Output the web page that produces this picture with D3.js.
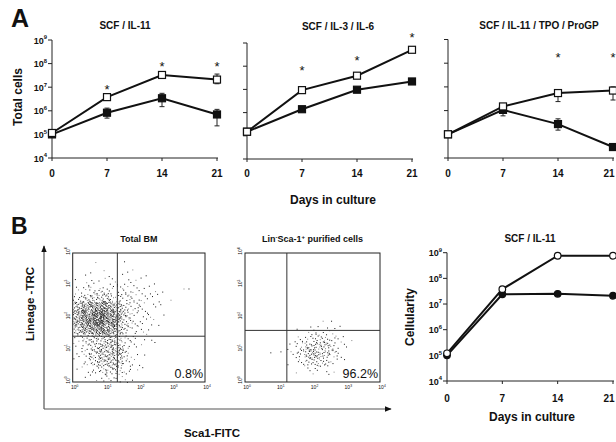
<!DOCTYPE html>
<html>
<head>
<meta charset="utf-8">
<script src="https://cdn.jsdelivr.net/npm/d3@7/dist/d3.min.js"></script>
<style>
  body { margin: 0; background: #fff; }
  text { font-family: "Liberation Sans", Arial, Helvetica, sans-serif; font-weight: bold; fill: #111; }
</style>
</head>
<body>
<svg id="fig" width="616" height="442"></svg>
<script>
// ---- data ----
var days = [0, 7, 14, 21];
var decadeExps = [4, 5, 6, 7, 8, 9];

// A: SCF / IL-11
var a1Open = [1.15e5, 3.8e6, 3.3e7, 2.1e7];
var a1Filled = [1.0e5, 8.3e5, 3.4e6, 7.0e5];
var a1OpenErr = [null, null, null, [1.4e7, 3.6e7]];
var a1FilledErr = [null, [4.9e5, 1.3e6], [1.5e6, 5.5e6], [2.3e5, 1.15e6]];
var a1Stars = [[7, 1.0e7], [14, 1.0e8], [21, 1.0e8]];

// A: SCF / IL-3 / IL-6
var a2Open = [1.5e5, 9.3e6, 3.9e7, 5.1e8];
var a2Filled = [1.5e5, 1.4e6, 9.7e6, 2.2e7];
var a2OpenErr = [null, null, [3.3e7, 4.6e7], null];
var a2FilledErr = [null, null, [8.3e6, 1.15e7], [1.9e7, 2.5e7]];
var a2Stars = [[7, 8.5e7], [14, 2.3e8], [21, 2.2e9]];

// A: SCF / IL-11 / TPO / ProGP
var a3Open = [1.0e5, 1.5e6, 5.5e6, 7.0e6];
var a3Filled = [1.0e5, 1.07e6, 2.7e5, 2.9e4];
var a3OpenErr = [null, [1.2e6, 1.9e6], [2.4e6, 7.4e6], [2.8e6, 1.0e7]];
var a3FilledErr = [null, [6.0e5, 1.7e6], [1.5e5, 4.5e5], [2.2e4, 3.8e4]];
var a3Stars = [[14, 2.2e8], [21, 2.2e8]];

// B: cellularity, SCF / IL-11
var bOpen = [1.2e5, 3.8e7, 7.6e8, 7.6e8];
var bFilled = [1.0e5, 2.4e7, 2.5e7, 2.1e7];

// B: flow cytometry, dots per 0.25-decade cell (rows top to bottom)
var flowExps = [0, 1, 2, 3, 4];
// Total BM: columns x = 0 .. 3 decades, rows y = 3.75 down to 0
var totalBmDensity = [
  [0, 0, 1, 0, 0, 0, 1, 0, 0, 0, 0, 0],
  [0, 1, 1, 1, 1, 1, 1, 1, 1, 0, 0, 0],
  [1, 2, 2, 2, 2, 2, 3, 2, 1, 1, 0, 0],
  [2, 4, 5, 6, 5, 4, 4, 3, 2, 2, 1, 0],
  [6, 10, 12, 12, 10, 8, 6, 4, 3, 2, 1, 1],
  [16, 26, 32, 32, 26, 16, 8, 5, 3, 2, 1, 0],
  [22, 38, 46, 46, 36, 22, 10, 5, 3, 2, 1, 0],
  [22, 38, 48, 48, 38, 22, 10, 4, 3, 2, 1, 0],
  [14, 26, 34, 36, 30, 18, 7, 4, 2, 1, 0, 0],
  [4, 8, 12, 14, 14, 10, 4, 3, 2, 1, 0, 0],
  [2, 6, 10, 16, 18, 14, 5, 2, 1, 1, 0, 0],
  [2, 5, 11, 18, 20, 16, 6, 2, 1, 0, 0, 0],
  [1, 4, 9, 15, 17, 14, 5, 2, 1, 0, 0, 0],
  [1, 2, 4, 8, 10, 8, 4, 1, 1, 0, 0, 0],
  [0, 1, 2, 3, 4, 3, 2, 1, 0, 0, 0, 0]
];
var totalBmLoneDots = [[3.35, 2.9], [3.5, 2.9], [2.6, 2.5]];
// Lin-Sca-1+ purified: columns x = 1.25 .. 3 decades, rows y = 1.75 down to 0.25
var purifiedDensity = [
  [0, 1, 2, 3, 3, 2, 1],
  [1, 3, 6, 8, 7, 4, 2],
  [2, 6, 12, 14, 12, 6, 2],
  [2, 7, 14, 16, 13, 6, 1],
  [1, 4, 8, 10, 7, 3, 1],
  [0, 1, 2, 3, 2, 1, 0]
];
var purifiedLoneDots = [[2.3, 1.9], [2.55, 1.9], [0.75, 0.92], [1.05, 0.95], [3.15, 1.3]];

// ---- drawing ----
var svg = d3.select("#fig");
svg.append("rect").attr("width", 616).attr("height", 442).attr("fill", "#fff");

function powLabel(sel, exp, size) {
  sel.append("tspan").text("10");
  sel.append("tspan").attr("dy", -size * 0.45).style("font-size", (size * 0.65) + "px").text(exp);
}

function growthPanel(opt) {
  var x = d3.scaleLinear().domain([0, 21]).range(opt.xr);
  var y = d3.scaleLog().domain([1e4, 1e9]).range(opt.yr);
  var g = svg.append("g");

  // axes
  g.append("line").attr("x1", opt.xr[0]).attr("x2", opt.xr[1] + 1)
    .attr("y1", opt.yr[0]).attr("y2", opt.yr[0]).attr("stroke", "#222").attr("stroke-width", 1);
  g.append("line").attr("x1", opt.xr[0]).attr("x2", opt.xr[0])
    .attr("y1", opt.yr[0]).attr("y2", opt.yr[1]).attr("stroke", "#222").attr("stroke-width", 1);
  g.selectAll(".yt").data(decadeExps).enter().append("line")
    .attr("x1", opt.xr[0] - 4).attr("x2", opt.xr[0])
    .attr("y1", function(d) { return y(Math.pow(10, d)); })
    .attr("y2", function(d) { return y(Math.pow(10, d)); })
    .attr("stroke", "#222");
  g.selectAll(".xt").data(days).enter().append("line")
    .attr("x1", function(d) { return x(d); }).attr("x2", function(d) { return x(d); })
    .attr("y1", opt.yr[0]).attr("y2", opt.yr[0] + 3).attr("stroke", "#222");

  if (opt.yLabels) {
    g.selectAll(".yl").data(decadeExps).enter().append("text")
      .attr("x", opt.xr[0] - 5)
      .attr("y", function(d) { return y(Math.pow(10, d)) + 3.5; })
      .attr("text-anchor", "end")
      .style("font-size", "9px")
      .each(function(d) { powLabel(d3.select(this), d, 9); });
  }
  // labels at the right page edge are pulled in so they stay whole
  g.selectAll(".xl").data(days).enter().append("text")
    .attr("x", function(d) { return Math.min(x(d), 609); })
    .attr("y", opt.yr[0] + opt.xlDy)
    .attr("text-anchor", "middle")
    .style("font-size", "10px")
    .text(function(d) { return d; });

  g.append("text").attr("x", opt.titleX).attr("y", opt.titleY)
    .attr("text-anchor", "middle").style("font-size", "10px").text(opt.title);

  var line = d3.line().x(function(d, i) { return x(days[i]); }).y(function(d) { return y(d); });

  [opt.filled, opt.open].forEach(function(series) {
    g.append("path").datum(series).attr("d", line)
      .attr("fill", "none").attr("stroke", "#111").attr("stroke-width", 2);
  });

  // error bars
  [opt.filledErr, opt.openErr].forEach(function(errs) {
    if (!errs) return;
    errs.forEach(function(e, i) {
      if (!e) return;
      var cx = x(days[i]);
      g.append("line").attr("x1", cx).attr("x2", cx).attr("y1", y(e[0])).attr("y2", y(e[1]))
        .attr("stroke", "#222").attr("stroke-width", 1);
      e.forEach(function(v) {
        g.append("line").attr("x1", cx - 2.5).attr("x2", cx + 2.5).attr("y1", y(v)).attr("y2", y(v))
          .attr("stroke", "#222").attr("stroke-width", 1);
      });
    });
  });

  // markers
  function markers(series, open) {
    var sel = g.selectAll(null).data(series).enter();
    if (opt.shape === "circle") {
      sel.append("circle")
        .attr("cx", function(d, i) { return x(days[i]); })
        .attr("cy", function(d) { return y(d); })
        .attr("r", 3.3)
        .attr("fill", open ? "#fff" : "#111").attr("stroke", "#111").attr("stroke-width", 1.2);
    } else {
      sel.append("rect")
        .attr("x", function(d, i) { return x(days[i]) - 3.5; })
        .attr("y", function(d) { return y(d) - 3.5; })
        .attr("width", 7).attr("height", 7)
        .attr("fill", open ? "#fff" : "#111").attr("stroke", "#111").attr("stroke-width", 1.2);
    }
  }
  markers(opt.filled, false);
  markers(opt.open, true);

  if (opt.stars) {
    g.selectAll(".st").data(opt.stars).enter().append("text")
      .attr("x", function(d) { return x(d[0]); })
      .attr("y", function(d) { return y(d[1]) + 7; })
      .attr("text-anchor", "middle")
      .style("font-size", "13px").style("font-weight", "normal").attr("fill", "#444")
      .text("*");
  }
}

growthPanel({ xr: [52, 217], yr: [158, 40], yLabels: true, xlDy: 19, title: "SCF / IL-11", titleX: 125, titleY: 29,
  open: a1Open, filled: a1Filled, openErr: a1OpenErr, filledErr: a1FilledErr, stars: a1Stars });
growthPanel({ xr: [247, 412], yr: [159, 43], yLabels: false, xlDy: 18, title: "SCF / IL-3 / IL-6", titleX: 338, titleY: 30,
  open: a2Open, filled: a2Filled, openErr: a2OpenErr, filledErr: a2FilledErr, stars: a2Stars });
growthPanel({ xr: [448, 613], yr: [158, 39.5], yLabels: false, xlDy: 19, title: "SCF / IL-11 / TPO / ProGP", titleX: 539, titleY: 29,
  open: a3Open, filled: a3Filled, openErr: a3OpenErr, filledErr: a3FilledErr, stars: a3Stars });
growthPanel({ xr: [447, 613], yr: [381, 252.7], yLabels: true, xlDy: 21, title: "SCF / IL-11", titleX: 530, titleY: 242,
  open: bOpen, filled: bFilled, shape: "circle" });

// axis titles, panel letters
svg.append("text").attr("x", 11).attr("y", 27).style("font-size", "25px").text("A");
svg.append("text").attr("x", 11).attr("y", 234).style("font-size", "23px").text("B");
svg.append("text").attr("x", 333).attr("y", 204).attr("text-anchor", "middle").style("font-size", "12px").text("Days in culture");
svg.append("text").attr("x", 532).attr("y", 421).attr("text-anchor", "middle").style("font-size", "12px").text("Days in culture");
svg.append("text").attr("transform", "translate(22,97) rotate(-90)").attr("text-anchor", "middle").style("font-size", "12px").text("Total cells");
svg.append("text").attr("transform", "translate(414,317) rotate(-90)").attr("text-anchor", "middle").style("font-size", "12px").text("Cellularity");
svg.append("text").attr("transform", "translate(34,304) rotate(-90)").attr("text-anchor", "middle").style("font-size", "11.5px").text("Lineage -TRC");
svg.append("text").attr("x", 212).attr("y", 437).attr("text-anchor", "middle").style("font-size", "11.5px").text("Sca1-FITC");

// B arrows
var defs = svg.append("defs");
defs.append("marker").attr("id", "arr").attr("viewBox", "0 0 10 10").attr("refX", 9).attr("refY", 5)
  .attr("markerWidth", 7).attr("markerHeight", 7).attr("markerUnits", "userSpaceOnUse").attr("orient", "auto")
  .append("path").attr("d", "M0,1 L10,5 L0,9 Z").attr("fill", "#111");
svg.append("line").attr("x1", 44).attr("y1", 409).attr("x2", 44).attr("y2", 246)
  .attr("stroke", "#555").attr("stroke-width", 1.2).attr("marker-end", "url(#arr)");
svg.append("line").attr("x1", 44).attr("y1", 409).attr("x2", 391).attr("y2", 409)
  .attr("stroke", "#555").attr("stroke-width", 1.2).attr("marker-end", "url(#arr)");

// flow plots: spread each cell's dots evenly (Halton points, shifted per cell)
function halton(i, b) {
  var f = 1, r = 0;
  while (i > 0) { f /= b; r += f * (i % b); i = Math.floor(i / b); }
  return r;
}

function flowPanel(opt) {
  var x = d3.scaleLinear().domain([0, 4]).range(opt.xr);
  var y = d3.scaleLinear().domain([0, 4]).range(opt.yr);
  var g = svg.append("g");
  var dots = [];
  var k = opt.seed;
  opt.density.forEach(function(row, r) {
    var y0 = opt.yTop - 0.25 * (r + 1);
    row.forEach(function(n, c) {
      var x0 = opt.xLeft + 0.25 * c;
      var sx = (c * 0.618 + r * 0.382) % 1, sy = (c * 0.273 + r * 0.717) % 1;
      for (var i = 0; i < n; i++) {
        k++;
        dots.push([x0 + 0.25 * ((halton(i + 1, 2) + sx) % 1), y0 + 0.25 * ((halton(i + 1, 3) + sy) % 1), k]);
      }
    });
  });
  opt.lone.forEach(function(d, i) { dots.push([d[0], d[1], i]); });

  g.selectAll(".dot").data(dots).enter().append("rect")
    .attr("x", function(d) { return x(d[0]); })
    .attr("y", function(d) { return y(d[1]); })
    .attr("width", 1).attr("height", 1)
    .attr("fill", function(d) { return d[2] % 4 === 0 ? "#888" : "#1a1a1a"; });

  g.append("rect").attr("x", opt.xr[0]).attr("y", opt.yr[1])
    .attr("width", opt.xr[1] - opt.xr[0]).attr("height", opt.yr[0] - opt.yr[1])
    .attr("fill", "none").attr("stroke", "#222").attr("stroke-width", 1);
  g.append("line").attr("x1", x(opt.gate[0])).attr("x2", x(opt.gate[0]))
    .attr("y1", opt.yr[0]).attr("y2", opt.yr[1]).attr("stroke", "#333");
  g.append("line").attr("x1", opt.xr[0]).attr("x2", opt.xr[1])
    .attr("y1", y(opt.gate[1])).attr("y2", y(opt.gate[1])).attr("stroke", "#333");

  g.selectAll(".fx").data(flowExps).enter().append("text")
    .attr("x", function(d) { return x(d) + 2; })
    .attr("y", opt.yr[0] + 7)
    .attr("text-anchor", "middle")
    .style("font-size", "5px").style("font-weight", "normal").attr("fill", "#555")
    .each(function(d) { powLabel(d3.select(this), d, 5); });
  g.selectAll(".fy").data(flowExps).enter().append("text")
    .attr("transform", function(d) { return "translate(" + (opt.xr[0] - 3) + "," + (y(d) - 2) + ") rotate(-90)"; })
    .attr("text-anchor", "middle")
    .style("font-size", "5px").style("font-weight", "normal").attr("fill", "#555")
    .each(function(d) { powLabel(d3.select(this), d, 5); });

  g.append("text").attr("x", opt.xr[1] - 2).attr("y", opt.yr[0] - 4)
    .attr("text-anchor", "end").style("font-size", "12.5px").style("font-weight", "normal").text(opt.pct);
  var t = g.append("text").attr("x", (opt.xr[0] + opt.xr[1]) / 2).attr("y", 242)
    .attr("text-anchor", "middle").style("font-size", "9px");
  opt.title(t);
}

flowPanel({ xr: [72.7, 205], yr: [382, 253], density: totalBmDensity, lone: totalBmLoneDots,
  xLeft: 0, yTop: 3.75, gate: [1.35, 1.42], pct: "0.8%", seed: 11,
  title: function(t) { t.text("Total BM"); } });
flowPanel({ xr: [245, 380], yr: [382, 253], density: purifiedDensity, lone: purifiedLoneDots,
  xLeft: 1.25, yTop: 1.75, gate: [1.24, 1.6], pct: "96.2%", seed: 977,
  title: function(t) {
    t.append("tspan").text("Lin");
    t.append("tspan").attr("dy", -3).style("font-size", "6px").text("-");
    t.append("tspan").attr("dy", 3).text("Sca-1");
    t.append("tspan").attr("dy", -3).style("font-size", "6px").text("+");
    t.append("tspan").attr("dy", 3).text(" purified cells");
  } });
</script>
</body>
</html>
